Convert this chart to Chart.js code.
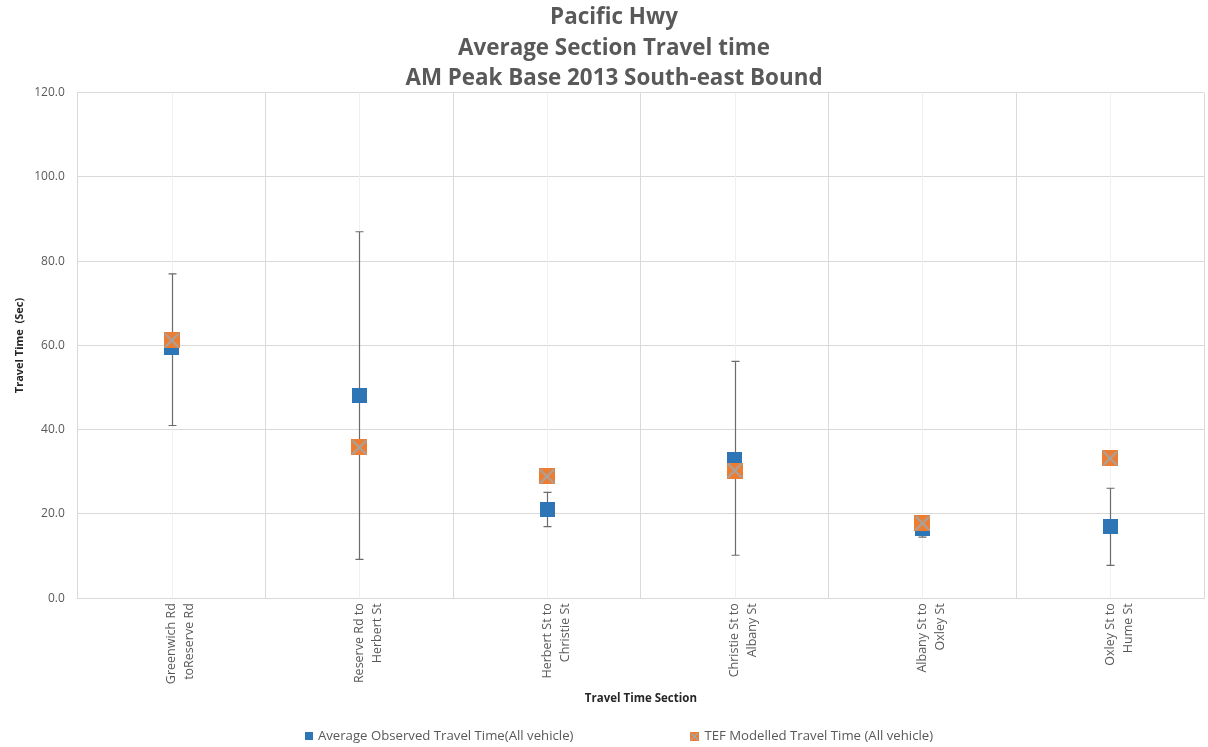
<!DOCTYPE html>
<html>
<head>
<meta charset="utf-8">
<script src="https://cdn.jsdelivr.net/npm/chart.js@4/dist/chart.umd.min.js"></script>
<style>
  html, body { margin: 0; padding: 0; background: #fff; }
  #wrap { width: 1208px; height: 747px; }
</style>
</head>
<body>
<div id="wrap"><canvas id="chart"></canvas></div>
<script>
// Pacific Hwy AM peak travel time per section, observed vs modelled.
const sections = [
  ['Greenwich Rd', 'toReserve Rd'],
  ['Reserve Rd to', 'Herbert St'],
  ['Herbert St to', 'Christie St'],
  ['Christie St to', 'Albany St'],
  ['Albany St to', 'Oxley St'],
  ['Oxley St to', 'Hume St'],
];
const observed = [59.5, 48.1, 21.1, 33.0, 16.6, 17.1];
const modelled = [61.2, 35.8, 28.9, 30.3, 17.8, 33.2];
const observedMin = [41.0, 9.2, 17.0, 10.2, 14.5, 7.8];
const observedMax = [77.0, 87.0, 25.1, 56.2, 18.0, 26.1];
const yTicks = [0, 20, 40, 60, 80, 100, 120];
const seriesNames = ['Average Observed Travel Time(All vehicle)', 'TEF Modelled Travel Time (All vehicle)'];

const BLUE = '#2e75b6';
const ORANGE = '#ed7d31';
const GREY = '#595959';
const FONT = '"Open Sans", "Noto Sans", sans-serif';

function squareMarker(size, fill, cross) {
  const c = document.createElement('canvas');
  c.width = size;
  c.height = size;
  const ctx = c.getContext('2d');
  ctx.fillStyle = fill;
  ctx.fillRect(0, 0, size, size);
  if (cross) {
    ctx.strokeStyle = '#a5a5a5';
    ctx.lineWidth = Math.max(1.5, size / 8);
    ctx.beginPath();
    ctx.moveTo(1, 1); ctx.lineTo(size - 1, size - 1);
    ctx.moveTo(size - 1, 1); ctx.lineTo(1, size - 1);
    ctx.stroke();
  }
  return c;
}

const blueDot = squareMarker(15, BLUE, false);
const orangeDot = squareMarker(16, ORANGE, true);
const keys = [squareMarker(8, BLUE, false), squareMarker(9, ORANGE, true)];

// light line through the middle of each category + error bars on the observed series
const extras = {
  id: 'extras',
  beforeDatasetsDraw(chart) {
    const { ctx, chartArea, scales } = chart;
    ctx.save();
    ctx.strokeStyle = '#f0f0f0';
    ctx.lineWidth = 1;
    sections.forEach((s, i) => {
      const x = Math.round(scales.x.getPixelForValue(i)) + 0.5;
      ctx.beginPath();
      ctx.moveTo(x, chartArea.top);
      ctx.lineTo(x, chartArea.bottom);
      ctx.stroke();
    });
    ctx.strokeStyle = '#6b6b6b';
    ctx.lineWidth = 1.2;
    sections.forEach((s, i) => {
      const x = Math.round(scales.x.getPixelForValue(i)) + 0.5;
      const y1 = scales.y.getPixelForValue(observedMin[i]);
      const y2 = scales.y.getPixelForValue(observedMax[i]);
      ctx.beginPath();
      ctx.moveTo(x, y1); ctx.lineTo(x, y2);
      ctx.moveTo(x - 4, y1); ctx.lineTo(x + 4, y1);
      ctx.moveTo(x - 4, y2); ctx.lineTo(x + 4, y2);
      ctx.stroke();
    });
    ctx.restore();
  },
  // wide-spaced legend row along the bottom
  afterDraw(chart) {
    const { ctx, width, height } = chart;
    ctx.save();
    ctx.font = '13.2px ' + FONT;
    ctx.fillStyle = GREY;
    ctx.textBaseline = 'middle';
    const gap = 117;
    const widths = seriesNames.map((t, i) => keys[i].width + 5 + ctx.measureText(t).width);
    let x = width / 2 + 15 - (widths[0] + gap + widths[1]) / 2;
    const y = height - 11;
    seriesNames.forEach((t, i) => {
      const k = keys[i];
      ctx.drawImage(k, Math.round(x), Math.round(y - k.height / 2));
      ctx.fillText(t, x + k.width + 5, y);
      x += widths[i] + gap;
    });
    ctx.restore();
  },
};

new Chart(document.getElementById('chart'), {
  type: 'line',
  data: {
    labels: sections,
    datasets: [
      {
        label: seriesNames[0],
        data: observed,
        showLine: false,
        pointStyle: blueDot,
        pointRadius: 8,
        pointHoverRadius: 8,
        borderColor: BLUE,
        backgroundColor: BLUE,
        order: 1,
      },
      {
        label: seriesNames[1],
        data: modelled,
        showLine: false,
        pointStyle: orangeDot,
        pointRadius: 8,
        pointHoverRadius: 8,
        borderColor: ORANGE,
        backgroundColor: ORANGE,
        order: 0,
      },
    ],
  },
  options: {
    responsive: true,
    maintainAspectRatio: false,
    animation: false,
    layout: { autoPadding: false, padding: { left: 24, right: 4, top: 3, bottom: 0 } },
    plugins: {
      title: {
        display: true,
        text: ['Pacific Hwy', 'Average Section Travel time', 'AM Peak Base 2013 South-east Bound'],
        color: GREY,
        font: { family: FONT, size: 22.4, weight: 'bold', lineHeight: 1.35 },
        padding: { top: 0, bottom: -1 },
      },
      legend: { display: false },
      tooltip: { enabled: false },
    },
    scales: {
      x: {
        offset: true,
        grid: { offset: true, color: '#d9d9d9', drawTicks: false },
        border: { color: '#d9d9d9' },
        ticks: {
          color: GREY,
          font: { family: FONT, size: 12.5, lineHeight: 1.45 },
          minRotation: 90,
          maxRotation: 90,
          padding: 5,
        },
        title: {
          display: true,
          text: 'Travel Time Section',
          color: '#262626',
          font: { family: FONT, size: 11.5, weight: 'bold' },
          padding: { top: 3, bottom: 41 },
        },
      },
      y: {
        min: 0,
        max: 120,
        afterBuildTicks: (axis) => { axis.ticks = yTicks.map((v) => ({ value: v })); },
        grid: { color: '#d9d9d9', drawTicks: false },
        border: { color: '#d9d9d9' },
        ticks: {
          color: GREY,
          font: { family: FONT, size: 12 },
          padding: 13,
          callback: (v) => Number(v).toFixed(1),
        },
        title: {
          display: true,
          text: 'Travel Time  (Sec)',
          color: '#262626',
          font: { family: FONT, size: 11, weight: 'bold' },
          padding: { top: -11, bottom: -5 },
        },
      },
    },
  },
  plugins: [extras],
});
</script>
</body>
</html>
